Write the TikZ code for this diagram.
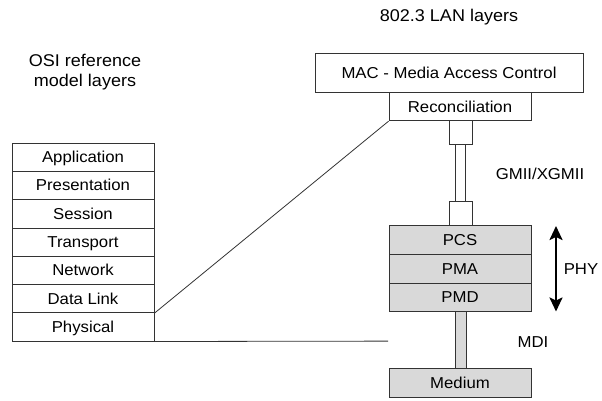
\documentclass[tikz,border=0pt]{standalone}
\usepackage{fontspec}
\setmainfont{Liberation Sans}[FakeStretch=1.06]
\usetikzlibrary{arrows.meta}
\definecolor{phygray}{HTML}{D9D9D9}
\definecolor{linegray}{HTML}{333333}
\tikzset{
  layer/.style={draw=linegray, line width=0.8pt, rectangle, inner sep=0pt,
    font=\fontsize{15.8}{18}\selectfont, text=black, text height=12pt, text depth=1pt},
  osi/.style={layer, minimum width=142pt, minimum height=28.3pt},
  lan/.style={layer, minimum width=142pt, minimum height=28.5pt},
  phy/.style={layer, fill=phygray, minimum width=142pt, minimum height=28.9pt},
  stub/.style={layer, minimum width=23pt, minimum height=23.4pt},
  conn/.style={draw=linegray, line width=0.8pt},
  title/.style={font=\fontsize{17}{20.5}\selectfont, align=center, inner sep=0pt},
  lbl/.style={font=\fontsize{15.8}{18}\selectfont, inner sep=0pt}
}
\begin{document}
\begin{tikzpicture}[x=1pt,y=-1pt]
\useasboundingbox (0,0) rectangle (602,400);
% titles
\node[title] (lantitle) at (449,17) {802.3 LAN layers};
\node[title] (osititle) at (85,72) {OSI reference\\model layers};
% OSI stack
\node[osi] (app)  at (83,157.15) {Application};
\node[osi] (pres) at (83,185.45) {Presentation};
\node[osi] (sess) at (83,213.75) {Session};
\node[osi] (trans) at (83,242.05) {Transport};
\node[osi] (net)  at (83,270.35) {Network};
\node[osi] (dl)   at (83,298.65) {Data Link};
\node[osi] (phys) at (83,326.95) {Physical};
% LAN stack
\node[layer, minimum width=268pt, minimum height=39pt] (mac) at (449,72.75) {MAC - Media Access Control};
\node[lan] (rec) at (460,106.5) {Reconciliation};
\node[stub] (stubA) at (460.5,132.45) {};
\node[layer, fill=white, minimum width=10.4pt, minimum height=57.6pt] (gmii) at (460.5,172.95) {};
\node[stub] (stubB) at (460.5,213.45) {};
\node[phy] (pcs) at (460,239.6) {PCS};
\node[phy] (pma) at (460,268.5) {PMA};
\node[phy] (pmd) at (460,297.4) {PMD};
\node[layer, fill=phygray, minimum width=10.7pt, minimum height=56.6pt] (mdi) at (460.6,340.15) {};
\node[phy] (medium) at (460,383.0) {Medium};
% labels
\node[lbl] (gmiilbl) at (540,174) {GMII/XGMII};
\node[lbl] (phylbl) at (581,269) {PHY};
\node[lbl] (mdilbl) at (533,342) {MDI};
% PHY arrow
\coordinate (arrtop) at (556,226);
\coordinate (arrbot) at (556,311.5);
\draw[line width=2.3pt, {Stealth[length=14pt,width=13pt,inset=3pt]}-{Stealth[length=14pt,width=13pt,inset=3pt]}] (arrtop) -- (arrbot);
% connectors
\draw[conn] (dl.south east) -- (rec.south west);
\coordinate (physend) at (388,341.1);
\draw[conn] (phys.south east) -- (physend);
\end{tikzpicture}
\end{document}
